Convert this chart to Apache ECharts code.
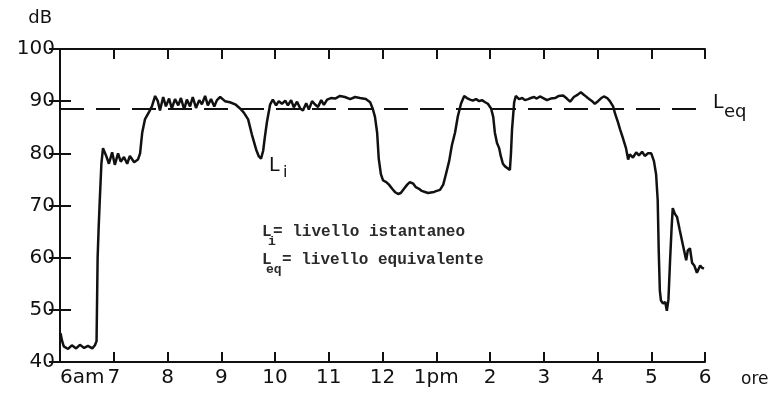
<!DOCTYPE html>
<html>
<head>
<meta charset="utf-8">
<script src="https://cdn.jsdelivr.net/npm/echarts@6/dist/echarts.min.js"></script>
<style>
  html, body { margin: 0; padding: 0; background: #fff; }
  #chart { width: 772px; height: 394px; }
</style>
</head>
<body>
<div id="chart"></div>
<script>
// ore dopo le 6am
const hours = [
  0.01, 0.04, 0.07, 0.15, 0.22, 0.30, 0.37, 0.45, 0.52, 0.60, 0.65, 0.68, 0.70, 0.72, 0.74, 0.77,
  0.80, 0.86, 0.91, 0.97, 1.02, 1.08, 1.13, 1.19, 1.25, 1.30, 1.38, 1.45, 1.49, 1.53, 1.58, 1.66,
  1.71, 1.77, 1.82, 1.86, 1.92, 1.97, 2.03, 2.08, 2.14, 2.20, 2.25, 2.31, 2.36, 2.42, 2.47, 2.53,
  2.59, 2.64, 2.70, 2.75, 2.81, 2.87, 2.92, 2.98, 3.07, 3.16, 3.26, 3.35, 3.42, 3.50, 3.57, 3.65,
  3.70, 3.74, 3.78, 3.81, 3.85, 3.91, 3.96, 4.02, 4.07, 4.13, 4.19, 4.24, 4.30, 4.35, 4.41, 4.47,
  4.52, 4.58, 4.63, 4.69, 4.74, 4.80, 4.86, 4.91, 4.97, 5.04, 5.12, 5.21, 5.30, 5.40, 5.49, 5.58,
  5.69, 5.77, 5.82, 5.86, 5.90, 5.93, 5.97, 6.01, 6.07, 6.12, 6.18, 6.23, 6.29, 6.34, 6.40, 6.46,
  6.51, 6.57, 6.62, 6.68, 6.73, 6.79, 6.85, 6.90, 6.96, 7.01, 7.07, 7.13, 7.18, 7.24, 7.29, 7.35,
  7.40, 7.46, 7.52, 7.57, 7.63, 7.68, 7.74, 7.80, 7.85, 7.91, 7.96, 8.02, 8.06, 8.09, 8.13, 8.17,
  8.20, 8.24, 8.28, 8.32, 8.35, 8.37, 8.39, 8.41, 8.45, 8.48, 8.54, 8.60, 8.65, 8.71, 8.76, 8.82,
  8.87, 8.93, 8.99, 9.06, 9.13, 9.21, 9.28, 9.36, 9.43, 9.49, 9.56, 9.64, 9.69, 9.75, 9.82, 9.90,
  9.95, 10.01, 10.07, 10.12, 10.18, 10.23, 10.29, 10.33, 10.38, 10.42, 10.47, 10.53, 10.57, 10.60, 10.66, 10.72,
  10.77, 10.83, 10.88, 10.94, 11.00, 11.05, 11.09, 11.12, 11.14, 11.16, 11.18, 11.22, 11.26, 11.29, 11.32, 11.35,
  11.38, 11.40, 11.44, 11.48, 11.53, 11.59, 11.65, 11.68, 11.72, 11.76, 11.80, 11.85, 11.91, 11.94, 11.98
];
// Li in dB
const levels = [
  45.5, 44, 43, 42.5, 43.2, 42.6, 43.3, 42.7, 43.1, 42.6, 43.2, 44, 60, 66, 71, 78,
  81, 79.5, 78, 80.2, 77.8, 80, 78.4, 79.3, 78, 79.5, 78.3, 78.8, 80, 84, 86.5, 88,
  89, 91, 90, 88.2, 90.8, 89, 90.5, 88.6, 90.4, 89.2, 90.6, 88.4, 90.3, 89, 90.8, 88.7,
  90.2, 89.4, 91, 89.2, 90.4, 89, 90.2, 90.8, 90, 89.8, 89.4, 88.6, 87.8, 86.5, 83.6, 80.7,
  79.4, 79, 80.5, 83, 86, 89.4, 90.3, 89.2, 90, 89.5, 90.1, 89.2, 90.2, 88.8, 89.9, 88.6,
  88.2, 89.6, 88.4, 90, 89.4, 88.9, 90.2, 89.3, 90.3, 90.6, 90.5, 91, 90.8, 90.4, 90.8, 90.6,
  90.4, 89.8, 88.5, 87, 84, 79, 76, 74.8, 74.5, 74, 73.2, 72.6, 72.2, 72.4, 73.2, 74,
  74.5, 74.2, 73.5, 73.2, 72.8, 72.6, 72.4, 72.5, 72.6, 72.8, 73, 74, 76, 78.5, 81.5, 84,
  87, 89.5, 91, 90.6, 90.3, 90.1, 90.4, 90, 90.2, 89.8, 89.5, 88.6, 87, 84, 82, 81,
  79.5, 78, 77.5, 77.2, 77.5, 76.8, 80, 84.6, 89.8, 91, 90.4, 90.6, 90.2, 90.4, 90.6, 90.8,
  90.5, 90.9, 90.6, 90.2, 90.5, 90.6, 91, 91.1, 90.5, 89.9, 90.8, 91.3, 91.7, 91.2, 90.6, 90,
  89.5, 90, 90.6, 90.9, 90.6, 90, 89, 87.5, 86, 84.6, 83, 81, 78.8, 79.8, 79.2, 80.2,
  79.6, 80.3, 79.5, 80, 80, 78.5, 76, 71, 61, 53.7, 51.8, 51.2, 51.5, 49.8, 52, 59.4,
  66, 69.5, 68.4, 67.8, 65.3, 62.4, 59.5, 61.4, 61.8, 59, 58.5, 57.1, 58.5, 58.1, 57.9
];
const hourLabels = ['6am', '7', '8', '9', '10', '11', '12', '1pm', '2', '3', '4', '5', '6'];
const leq = 88.5;

const ink = '#111';
const axisFont = 'DejaVu Sans';
const typeFont = 'Liberation Mono';

const chart = echarts.init(document.getElementById('chart'));

const frameLine = { show: true, lineStyle: { color: ink, width: 2 } };

const option = {
  backgroundColor: '#fff',
  animation: false,
  grid: { left: 60, right: 67, top: 49, bottom: 32 },
  xAxis: [
    {
      type: 'value', min: 0, max: 12, interval: 1, position: 'bottom',
      name: 'ore', nameLocation: 'end', nameGap: 36,
      nameTextStyle: { color: ink, fontFamily: axisFont, fontSize: 17, verticalAlign: 'top', padding: [9, 0, 0, 0] },
      axisLine: frameLine,
      axisTick: { show: true, inside: true, length: 10, lineStyle: { color: ink, width: 2 } },
      axisLabel: {
        color: ink, fontFamily: axisFont, fontSize: 20, margin: 6,
        alignMinLabel: 'left',
        formatter: (v) => hourLabels[Math.round(v)]
      },
      splitLine: { show: false }
    },
    {
      type: 'value', min: 0, max: 12, interval: 1, position: 'top',
      axisLine: frameLine,
      axisTick: { show: true, inside: true, length: 10, lineStyle: { color: ink, width: 2 } },
      axisLabel: { show: false },
      splitLine: { show: false }
    }
  ],
  yAxis: [
    {
      type: 'value', min: 40, max: 100, interval: 10, position: 'left',
      name: 'dB', nameLocation: 'end', nameGap: 22,
      nameTextStyle: { color: ink, fontFamily: axisFont, fontSize: 18, align: 'right', padding: [0, 8, 0, 0] },
      axisLine: frameLine,
      axisTick: { show: true, inside: true, length: 11, lineStyle: { color: ink, width: 2 } },
      axisLabel: { color: ink, fontFamily: axisFont, fontSize: 20, margin: 5 },
      splitLine: { show: false }
    },
    {
      type: 'value', min: 40, max: 100, interval: 10, position: 'right',
      axisLine: frameLine,
      axisTick: { show: true, inside: true, length: 11, lineStyle: { color: ink, width: 2 } },
      axisLabel: { show: false },
      splitLine: { show: false }
    }
  ],
  series: [
    {
      name: 'Li',
      type: 'line',
      xAxisIndex: 0,
      yAxisIndex: 0,
      showSymbol: false,
      data: hours.map((h, i) => [h, levels[i]]),
      lineStyle: { color: ink, width: 2.5 },
      markLine: {
        silent: true,
        symbol: ['none', 'none'],
        label: { show: false },
        lineStyle: { color: ink, width: 2, type: [24, 12] },
        data: [{ yAxis: leq }]
      }
    }
  ],
  graphic: [
    // Li vicino alla curva
    { type: 'text', x: 269, y: 166, style: { text: 'L', fill: ink, fontFamily: axisFont, fontSize: 19, verticalAlign: 'middle' } },
    { type: 'text', x: 283, y: 173, style: { text: 'i', fill: ink, fontFamily: axisFont, fontSize: 16, verticalAlign: 'middle' } },
    // Leq a destra
    { type: 'text', x: 713, y: 103, style: { text: 'L', fill: ink, fontFamily: axisFont, fontSize: 19, verticalAlign: 'middle' } },
    { type: 'text', x: 724, y: 112, style: { text: 'eq', fill: ink, fontFamily: axisFont, fontSize: 18, verticalAlign: 'middle' } },
    // legenda a macchina
    { type: 'text', x: 262, y: 232, style: { text: 'L', fill: '#2a2a2a', fontFamily: typeFont, fontWeight: 'bold', fontSize: 16, verticalAlign: 'middle' } },
    { type: 'text', x: 268, y: 242, style: { text: 'i', fill: '#2a2a2a', fontFamily: typeFont, fontWeight: 'bold', fontSize: 13, verticalAlign: 'middle' } },
    { type: 'text', x: 273, y: 232, style: { text: '= livello istantaneo', fill: '#2a2a2a', fontFamily: typeFont, fontWeight: 'bold', fontSize: 16, verticalAlign: 'middle' } },
    { type: 'text', x: 262, y: 260, style: { text: 'L', fill: '#2a2a2a', fontFamily: typeFont, fontWeight: 'bold', fontSize: 16, verticalAlign: 'middle' } },
    { type: 'text', x: 266, y: 270, style: { text: 'eq', fill: '#2a2a2a', fontFamily: typeFont, fontWeight: 'bold', fontSize: 13, verticalAlign: 'middle' } },
    { type: 'text', x: 282, y: 260, style: { text: '= livello equivalente', fill: '#2a2a2a', fontFamily: typeFont, fontWeight: 'bold', fontSize: 16, verticalAlign: 'middle' } }
  ]
};

chart.setOption(option);
</script>
</body>
</html>
